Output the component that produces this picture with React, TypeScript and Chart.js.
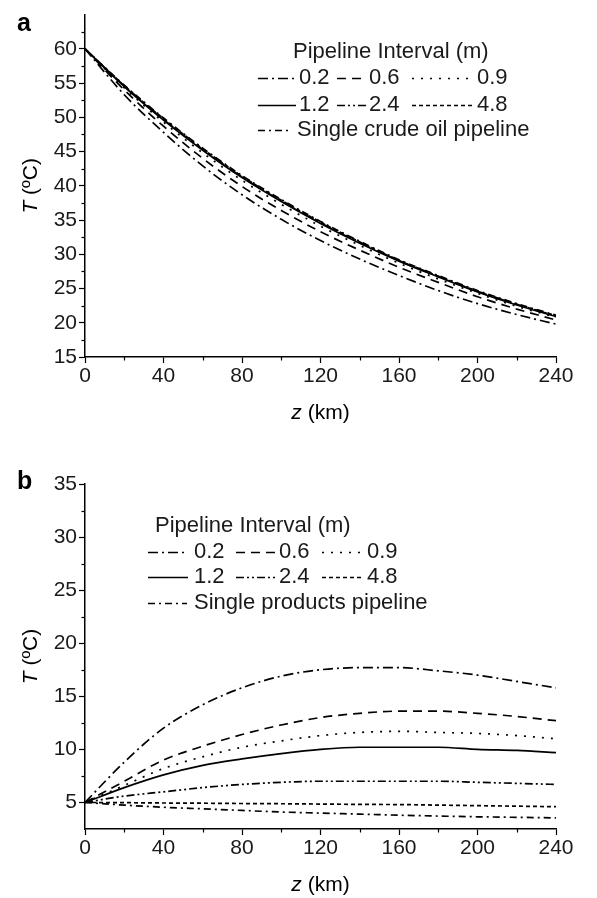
import React, { useEffect, useRef } from 'react';
import { Chart, registerables } from 'chart.js';

Chart.register(...registerables);

// ---------------- data ----------------
const Z_KM = [0, 20, 40, 60, 80, 100, 120, 140, 160, 180, 200, 220, 240];

// Panel a: crude oil temperature (ºC)
const A_I02 = [60, 53.3, 47.8, 42.9, 38.7, 35.1, 32.0, 29.3, 26.9, 24.7, 22.8, 21.2, 19.8];
const A_I06 = [60, 54.0, 48.7, 44.0, 39.9, 36.4, 33.3, 30.6, 28.1, 25.9, 23.8, 22.0, 20.4];
const A_I09 = [60, 54.3, 49.3, 44.8, 40.8, 37.3, 34.1, 31.3, 28.7, 26.4, 24.3, 22.4, 20.8];
const A_I12 = [60, 54.5, 49.6, 45.2, 41.2, 37.7, 34.5, 31.6, 29.0, 26.7, 24.5, 22.6, 20.9];
const A_I24 = [60, 54.6, 49.7, 45.3, 41.3, 37.8, 34.6, 31.7, 29.1, 26.8, 24.6, 22.7, 21.0];
const A_I48 = [60, 54.6, 49.8, 45.4, 41.4, 37.9, 34.7, 31.8, 29.1, 26.8, 24.6, 22.7, 21.0];
const A_SINGLE = [60, 54.7, 49.9, 45.5, 41.5, 38.0, 34.8, 31.9, 29.2, 26.9, 24.7, 22.8, 21.1];

// Panel b: products temperature (ºC)
const B_I02 = [5, 8.8, 12.0, 14.2, 15.8, 16.9, 17.5, 17.7, 17.7, 17.4, 17.0, 16.4, 15.8];
const B_I06 = [5, 7.0, 9.0, 10.3, 11.4, 12.3, 13.0, 13.4, 13.6, 13.6, 13.4, 13.1, 12.7];
const B_I09 = [5, 6.6, 8.2, 9.3, 10.2, 10.8, 11.3, 11.6, 11.7, 11.6, 11.5, 11.3, 11.0];
const B_I12 = [5, 6.4, 7.6, 8.5, 9.1, 9.6, 10.0, 10.2, 10.2, 10.2, 10.0, 9.9, 9.7];
const B_I24 = [5, 5.6, 6.0, 6.4, 6.7, 6.9, 7.0, 7.0, 7.0, 7.0, 6.9, 6.8, 6.7];
const B_I48 = [5, 4.98, 4.95, 4.93, 4.9, 4.88, 4.85, 4.82, 4.8, 4.75, 4.7, 4.65, 4.6];
const B_SINGLE = [5, 4.75, 4.55, 4.4, 4.25, 4.1, 4.0, 3.9, 3.8, 3.72, 3.65, 3.6, 3.55];

const INTERVAL_LABELS = ['0.2', '0.6', '0.9', '1.2', '2.4', '4.8'];
const A_SINGLE_LABEL = 'Single crude oil pipeline';
const B_SINGLE_LABEL = 'Single products pipeline';
const LEGEND_TITLE = 'Pipeline Interval (m)';

const A_Y_TICKS = { min: 15, max: 65 };
const B_Y_TICKS = { min: 2.5, max: 35 };
const X_TICKS = { min: 0, max: 240 };

// ---------------- styles ----------------
const FONT = '"Liberation Sans", Arial, Helvetica, sans-serif';
const FS = 21;
const LFS = 22;
const DASHES: number[][] = [
  [10, 4, 2, 4], // 0.2 dash-dot
  [9, 6], // 0.6 dashed
  [2, 7], // 0.9 dotted
  [], // 1.2 solid
  [8, 3, 2, 3, 2, 3], // 2.4 dash-dot-dot
  [4, 3], // 4.8 short dash
  [7, 4, 2, 4], // single dash-dot
];

type LegendItem = { label: string; dash: number[]; x0: number; x1: number; tx: number; y: number };
type Panel = {
  letter: string;
  series: number[][];
  labels: string[];
  yRange: { min: number; max: number };
  canvasH: number;
  padTop: number;
  xScaleH: number;
  xTitleY: number;
  letterY: number;
  header: { x: number; y: number };
  legend: LegendItem[];
};

function legendItems(labels: string[], cols: { x0: number; x1: number; tx: number }[], rows: number[], singleCol: { x0: number; x1: number; tx: number }): LegendItem[] {
  const items: LegendItem[] = [];
  for (let i = 0; i < 6; i++) {
    const c = cols[i % 3];
    items.push({ label: labels[i], dash: DASHES[i], x0: c.x0, x1: c.x1, tx: c.tx, y: rows[Math.floor(i / 3)] });
  }
  items.push({ label: labels[6], dash: DASHES[6], x0: singleCol.x0, x1: singleCol.x1, tx: singleCol.tx, y: rows[2] });
  return items;
}

const PANEL_A: Panel = {
  letter: 'a',
  series: [A_I02, A_I06, A_I09, A_I12, A_I24, A_I48, A_SINGLE],
  labels: [...INTERVAL_LABELS, A_SINGLE_LABEL],
  yRange: A_Y_TICKS,
  canvasH: 440,
  padTop: 7,
  xScaleH: 83,
  xTitleY: 413,
  letterY: 24,
  header: { x: 293, y: 52 },
  legend: legendItems(
    [...INTERVAL_LABELS, A_SINGLE_LABEL],
    [
      { x0: 258, x1: 296, tx: 299 },
      { x0: 337, x1: 366, tx: 369 },
      { x0: 412, x1: 472, tx: 477 },
    ],
    [78, 105, 130],
    { x0: 258, x1: 292, tx: 297 }
  ),
};

const PANEL_B: Panel = {
  letter: 'b',
  series: [B_I02, B_I06, B_I09, B_I12, B_I24, B_I48, B_SINGLE],
  labels: [...INTERVAL_LABELS, B_SINGLE_LABEL],
  yRange: B_Y_TICKS,
  canvasH: 458,
  padTop: 44,
  xScaleH: 69,
  xTitleY: 445,
  letterY: 42,
  header: { x: 155, y: 86 },
  legend: legendItems(
    [...INTERVAL_LABELS, B_SINGLE_LABEL],
    [
      { x0: 148, x1: 188, tx: 194 },
      { x0: 236, x1: 275, tx: 279 },
      { x0: 322, x1: 362, tx: 367 },
    ],
    [112, 137, 163],
    { x0: 148, x1: 187, tx: 194 }
  ),
};

const W = 597;
const PLOT_LEFT = 85;
const PLOT_RIGHT = 556;

function decorPlugin(p: Panel) {
  return {
    id: 'decor' + p.letter,
    afterDraw(chart: any) {
      const ctx: CanvasRenderingContext2D = chart.ctx;
      const xs = chart.scales.x;
      const ys = chart.scales.y;
      const area = chart.chartArea;
      ctx.save();
      // minor ticks
      ctx.strokeStyle = '#000';
      ctx.lineWidth = 1.2;
      ctx.setLineDash([]);
      for (let v = X_TICKS.min + 20; v < X_TICKS.max; v += 40) {
        const px = Math.round(xs.getPixelForValue(v)) + 0.5;
        ctx.beginPath();
        ctx.moveTo(px, area.bottom);
        ctx.lineTo(px, area.bottom + 3.5);
        ctx.stroke();
      }
      for (let v = p.yRange.min; v < p.yRange.max; v += 2.5) {
        if (v % 5 === 0 || v === p.yRange.min) continue;
        const py = Math.round(ys.getPixelForValue(v)) + 0.5;
        ctx.beginPath();
        ctx.moveTo(area.left, py);
        ctx.lineTo(area.left - 3.5, py);
        ctx.stroke();
      }
      // panel letter
      ctx.fillStyle = '#000';
      ctx.font = `bold 25px ${FONT}`;
      ctx.textAlign = 'left';
      ctx.textBaseline = 'middle';
      ctx.fillText(p.letter, 17, p.letterY);
      // y title
      const cy = (area.top + area.bottom) / 2;
      ctx.save();
      ctx.translate(31, cy);
      ctx.rotate(-Math.PI / 2);
      ctx.font = `italic ${FS}px ${FONT}`;
      const wT = ctx.measureText('T').width;
      ctx.font = `${FS}px ${FONT}`;
      const wRest = ctx.measureText(' (ºC)').width;
      const sx = -(wT + wRest) / 2;
      ctx.font = `italic ${FS}px ${FONT}`;
      ctx.fillText('T', sx, 0);
      ctx.font = `${FS}px ${FONT}`;
      ctx.fillText(' (ºC)', sx + wT, 0);
      ctx.restore();
      // x title
      const cx = (area.left + area.right) / 2;
      ctx.font = `italic ${FS}px ${FONT}`;
      const wz = ctx.measureText('z').width;
      ctx.font = `${FS}px ${FONT}`;
      const wk = ctx.measureText(' (km)').width;
      const sx2 = cx - (wz + wk) / 2;
      ctx.textAlign = 'left';
      ctx.font = `italic ${FS}px ${FONT}`;
      ctx.fillText('z', sx2, p.xTitleY);
      ctx.font = `${FS}px ${FONT}`;
      ctx.fillText(' (km)', sx2 + wz, p.xTitleY);
      // legend
      ctx.fillStyle = '#1a1a1a';
      ctx.font = `${LFS}px ${FONT}`;
      ctx.fillText(LEGEND_TITLE, p.header.x, p.header.y);
      for (const it of p.legend) {
        ctx.strokeStyle = '#000';
        ctx.lineWidth = 1.7;
        ctx.setLineDash(it.dash);
        ctx.beginPath();
        ctx.moveTo(it.x0, it.y + 0.5);
        ctx.lineTo(it.x1, it.y + 0.5);
        ctx.stroke();
        ctx.setLineDash([]);
        ctx.fillText(it.label, it.tx, it.y);
      }
      ctx.restore();
    },
  };
}

function makeConfig(p: Panel): any {
  const datasets = p.series.map((vals, i) => ({
    label: p.labels[i],
    data: Z_KM.map((z, j) => ({ x: z, y: vals[j] })),
    borderColor: '#000',
    borderWidth: 1.7,
    borderDash: DASHES[i],
    pointRadius: 0,
    fill: false,
    cubicInterpolationMode: 'monotone',
  }));
  const tickFont = { family: FONT, size: FS };
  return {
    type: 'line',
    data: { datasets },
    options: {
      responsive: false,
      animation: false,
      devicePixelRatio: 1,
      layout: { autoPadding: false, padding: { left: 0, right: W - PLOT_RIGHT, top: p.padTop, bottom: 0 } },
      plugins: { legend: { display: false }, tooltip: { enabled: false } },
      scales: {
        x: {
          type: 'linear',
          min: X_TICKS.min,
          max: X_TICKS.max,
          afterFit: (s: any) => {
            s.height = p.xScaleH;
          },
          border: { display: true, color: '#000', width: 1.5 },
          grid: { drawOnChartArea: false, drawTicks: true, tickLength: 6, tickColor: '#000', tickWidth: 1.2 },
          ticks: {
            stepSize: 40,
            autoSkip: false,
            maxRotation: 0,
            color: '#1a1a1a',
            font: tickFont,
            padding: 1,
            callback: (v: number) => String(v),
          },
        },
        y: {
          type: 'linear',
          min: p.yRange.min,
          max: p.yRange.max,
          afterFit: (s: any) => {
            s.width = PLOT_LEFT;
          },
          border: { display: true, color: '#000', width: 1.5 },
          grid: {
            drawOnChartArea: false,
            drawTicks: true,
            tickLength: 6,
            tickWidth: 1.2,
            tickColor: (c: any) => (c.tick && c.tick.value % 5 === 0 && c.tick.value !== 65 ? '#000' : 'rgba(0,0,0,0)'),
          },
          ticks: {
            stepSize: 5,
            autoSkip: false,
            color: '#1a1a1a',
            font: tickFont,
            padding: 2,
            callback: (v: number) => (v % 5 === 0 && v !== 65 ? String(v) : ''),
          },
        },
      },
    },
    plugins: [decorPlugin(p)],
  };
}

function PanelChart({ panel }: { panel: Panel }) {
  const ref = useRef<HTMLCanvasElement | null>(null);
  useEffect(() => {
    if (!ref.current) return;
    const chart = new Chart(ref.current, makeConfig(panel));
    return () => chart.destroy();
  }, [panel]);
  return <canvas ref={ref} width={W} height={panel.canvasH} style={{ display: 'block', width: W, height: panel.canvasH }} />;
}

export default function App() {
  return (
    <div style={{ position: 'absolute', left: 0, top: 0, width: W, height: 898, background: '#fff' }}>
      <PanelChart panel={PANEL_A} />
      <PanelChart panel={PANEL_B} />
    </div>
  );
}
